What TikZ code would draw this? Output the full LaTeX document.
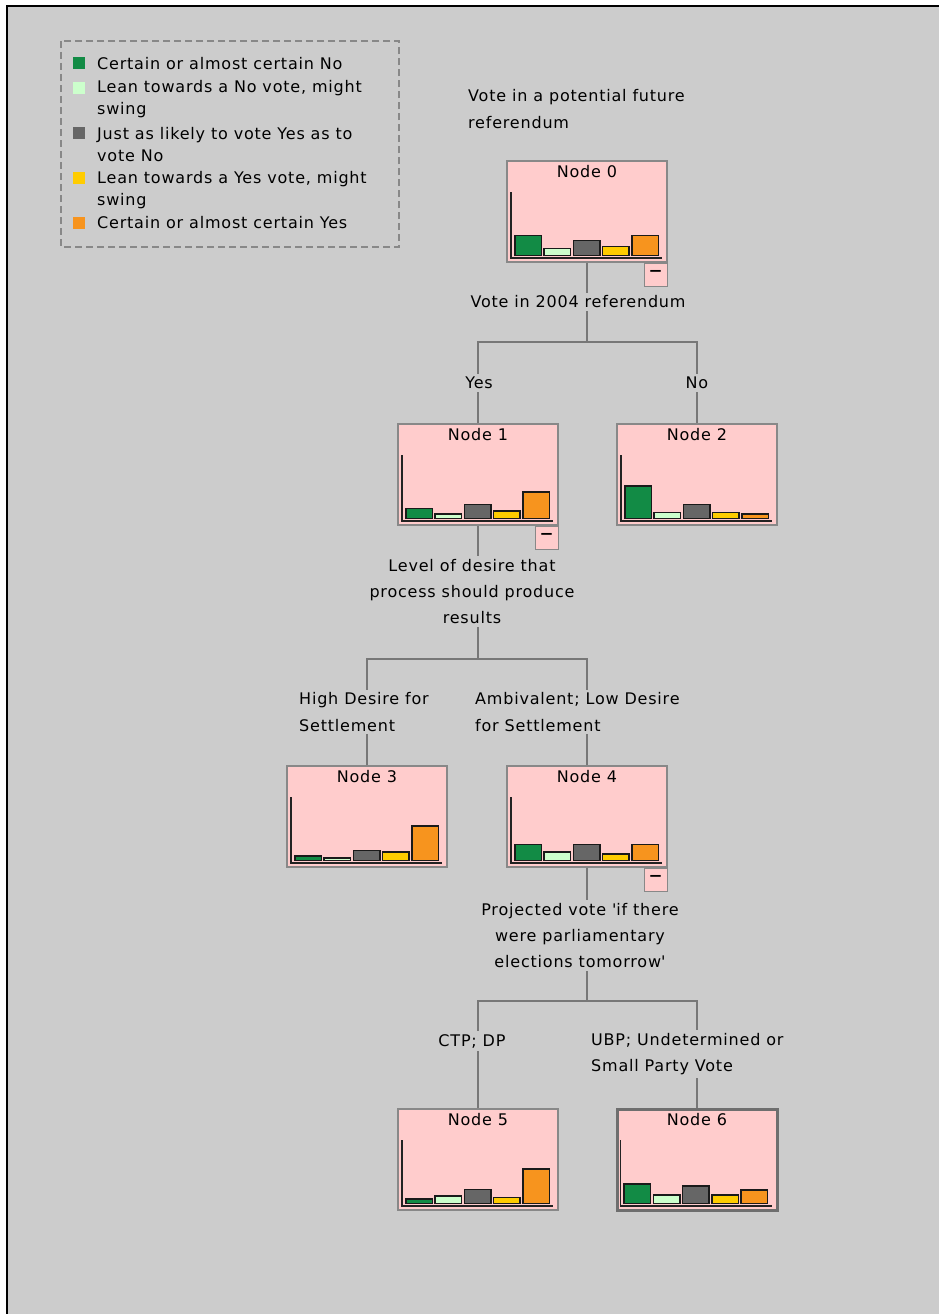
\documentclass[tikz,border=0pt]{standalone}
\usepackage{fontspec}
\setmainfont{DejaVu Sans}[LetterSpace=5]
\usepackage{tikz}

\definecolor{bggray}{HTML}{CCCCCC}
\definecolor{boxgray}{HTML}{888888}
\definecolor{selgray}{HTML}{6E6E6E}
\definecolor{edgegray}{HTML}{777777}
\definecolor{axisgray}{HTML}{222222}
\definecolor{bardark}{HTML}{1A1A1A}
\definecolor{nodepink}{HTML}{FFCCCC}
\definecolor{cat1}{HTML}{128B45}
\definecolor{cat2}{HTML}{CCFFCC}
\definecolor{cat3}{HTML}{666666}
\definecolor{cat4}{HTML}{FFCC00}
\definecolor{cat5}{HTML}{F7941E}

\newcommand{\legfont}{\fontsize{16}{22.6}\selectfont}
\newcommand{\treefont}{\fontsize{16}{26.3}\selectfont}
\NewDocumentCommand{\histo}{m m}{%
    \draw[histaxis] ([shift={(5,32)}]#1.north west) |- ([shift={(156,98)}]#1.north west);
    \foreach \h [count=\i] in {#2} {
        \pgfmathsetmacro{\bx}{29.3*\i-20.8}
        \draw[histbar, fill=cat\i] ([shift={(\bx,95.5)}]#1.north west) rectangle ++(26.5,-\h);
    }
}

\begin{document}
\begin{tikzpicture}[x=1pt, y=-1pt,
                    tnode/.style = {draw=boxgray, line width=1.5pt, fill=nodepink,
                                    minimum width=160pt, minimum height=101pt,
                                    inner sep=0pt, anchor=north},
                    chosen/.style = {draw=selgray, line width=3pt},
                    nodetitle/.style = {anchor=north, inner sep=5pt, font=\treefont},
                    collapse/.style = {draw=boxgray, line width=1.2pt, fill=nodepink,
                                       minimum size=23pt, inner sep=0pt, anchor=north east,
                                       font=\fontsize{26}{26}\selectfont},
                    link/.style = {draw=edgegray, line width=1.6pt},
                    splitlab/.style = {fill=bggray, inner sep=3pt, align=center, font=\treefont},
                    branchlab/.style = {fill=bggray, inner sep=3pt, align=left, font=\treefont},
                    legtext/.style = {anchor=west, align=left, inner sep=2pt, font=\legfont},
                    swatch/.style = {minimum size=12pt, inner sep=0pt},
                    histaxis/.style = {draw=axisgray, line width=1.8pt},
                    histbar/.style = {draw=bardark, line width=1.5pt}]
    \useasboundingbox (0,0) rectangle (939,1314);
    \fill[white] (0,0) rectangle (939,1314);
    \fill[bggray] (7,6) rectangle (939,1314);
    \draw[line width=2.5pt] (7,1314) -- (7,6) -- (939,6);

    % legend
    \draw[boxgray, line width=1.5pt, dash pattern=on 7pt off 4pt] (61,41) rectangle (399,247);
    \node[swatch, fill=cat1] (sw1) at (79,63.5) {};
    \node[legtext] (lg1) at (95,63.5) {Certain or almost certain No};
    \node[swatch, fill=cat2] (sw2) at (79,87.5) {};
    \node[legtext] (lg2) at (95,99) {Lean towards a No vote, might\\swing};
    \node[swatch, fill=cat3] (sw3) at (79,132.5) {};
    \node[legtext] (lg3) at (95,144.5) {Just as likely to vote Yes as to\\vote No};
    \node[swatch, fill=cat4] (sw4) at (79,177.5) {};
    \node[legtext] (lg4) at (95,190) {Lean towards a Yes vote, might\\swing};
    \node[swatch, fill=cat5] (sw5) at (79,223) {};
    \node[legtext] (lg5) at (95,223) {Certain or almost certain Yes};

    \node[branchlab, fill=none, anchor=west] (target) at (465,109) {Vote in a potential future\\referendum};

    % tree nodes
    \node[tnode, label={[nodetitle]north:Node 0}] (n0) at (587,160) {};
    \node[collapse] (c0) at (n0.south east) {–};
    \node[tnode, label={[nodetitle]north:Node 1}] (n1) at (478,423) {};
    \node[collapse] (c1) at (n1.south east) {–};
    \node[tnode, label={[nodetitle]north:Node 2}] (n2) at (697,423) {};
    \node[tnode, label={[nodetitle]north:Node 3}] (n3) at (367,765) {};
    \node[tnode, label={[nodetitle]north:Node 4}] (n4) at (587,765) {};
    \node[collapse] (c4) at (n4.south east) {–};
    \node[tnode, label={[nodetitle]north:Node 5}] (n5) at (478,1108) {};
    \node[tnode, chosen, label={[nodetitle]north:Node 6}] (n6) at (697,1108) {};

    \histo{n0}{20,7,15,9,20}
    \histo{n1}{10,4.7,14,7.7,26.7}
    \histo{n2}{32.7,6,14,6,4.7}
    \histo{n3}{4.3,2.7,10,8.3,34.3}
    \histo{n4}{16,8.3,16,6.7,16}
    \histo{n5}{4.3,7.7,14,6,34.3}
    \histo{n6}{19.3,8.3,17.7,8.3,13.7}

    % splits
    \coordinate (j0) at (587,342);
    \coordinate (j1) at (478,659);
    \coordinate (j4) at (587,1001);
    \draw[link] (n0) -- (j0);
    \draw[link] (n1) |- (j0) -| (n2);
    \draw[link] (n1) -- (j1);
    \draw[link] (n3) |- (j1) -| (n4);
    \draw[link] (n4) -- (j4);
    \draw[link] (n5) |- (j4) -| (n6);

    \node[splitlab] (q0) at (578,302) {Vote in 2004 referendum};
    \node[branchlab] (b1) at (479,383) {Yes};
    \node[branchlab] (b2) at (697,383) {No};
    \node[splitlab] (q1) at (472,591.5) {Level of desire that\\process should produce\\results};
    \node[branchlab, anchor=west] (b3) at (296,712) {High Desire for\\Settlement};
    \node[branchlab, anchor=west] (b4) at (472,712) {Ambivalent; Low Desire\\for Settlement};
    \node[splitlab] (q4) at (580,935.5) {Projected vote \textquotesingle if there\\were parliamentary\\elections tomorrow\textquotesingle};
    \node[branchlab] (b5) at (472,1041) {CTP; DP};
    \node[branchlab, anchor=west] (b6) at (588,1054) {UBP; Undetermined or\\Small Party Vote};
\end{tikzpicture}
\end{document}
